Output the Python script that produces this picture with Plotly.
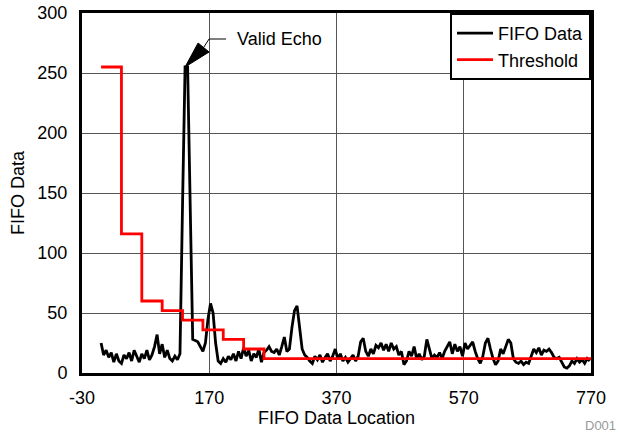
import numpy as np
import plotly.graph_objects as go

# FIFO data sampled every 4 locations, from 0 to 768
fifo_values = [
    25, 15, 19, 13, 17, 9, 16, 10,
    8, 15, 12, 17, 10, 19, 14, 9,
    16, 12, 19, 11, 15, 22, 32, 16,
    24, 13, 19, 12, 10, 14, 11, 16,
    140, 255, 255, 130, 28, 27, 26, 22,
    18, 25, 45, 58, 50, 25, 10, 8,
    12, 9, 14, 11, 16, 10, 18, 12,
    21, 14, 19, 10, 16, 13, 20, 9,
    17, 19, 22, 18, 17, 20, 15, 22,
    30, 18, 20, 38, 52, 56, 40, 20,
    15, 13, 10, 8, 14, 11, 15, 9,
    13, 16, 10, 14, 20, 12, 16, 10,
    13, 9, 12, 15, 10, 14, 26, 29,
    18, 14, 20, 16, 23, 21, 25, 19,
    24, 18, 25, 20, 22, 15, 18, 7,
    10, 18, 14, 22, 12, 16, 11, 14,
    28, 20, 12, 15, 13, 17, 12, 18,
    22, 26, 16, 24, 18, 22, 14, 25,
    20, 23, 26, 18, 12, 8, 14, 25,
    29, 20, 12, 7, 10, 20, 16, 22,
    28, 25, 12, 9, 8, 10, 7, 9,
    8, 14, 20, 17, 21, 15, 19, 18,
    20, 17, 13, 12, 13, 9, 5, 4,
    6, 10, 8, 12, 9, 11, 8, 12,
    10,
]
fifo_step = 4
fifo_x = [i * fifo_step for i in range(len(fifo_values))]

threshold_x = [0, 32, 64, 96, 128, 160, 192, 224, 256, 770]
threshold_y = [255, 116, 60, 52, 44, 36, 28, 20, 12, 12]

x_ticks = [-30, 170, 370, 570, 770]
y_ticks = [0, 50, 100, 150, 200, 250, 300]

FONT = "Liberation Sans, Arial, sans-serif"

fig = go.Figure()
fig.add_trace(go.Scatter(x=fifo_x, y=fifo_values, mode="lines", name="FIFO Data",
                         line=dict(color="black", width=2.8)))
fig.add_trace(go.Scatter(x=threshold_x, y=threshold_y, mode="lines", name="Threshold",
                         line=dict(color="#ff0000", width=2.8, shape="hv")))

# "Valid Echo" callout anchored at the peak
pk = int(np.argmax(fifo_values))
px_, py_ = fifo_x[pk], fifo_values[pk]
ux = 1 / 0.636   # data units per pixel (x)
uy = 1 / 1.2     # data units per pixel (y)
c1 = (px_ + 13 * ux, py_ + 24 * uy)
c2 = (px_ + 24 * ux, py_ + 15 * uy)
fig.add_shape(type="path",
              path=f"M{px_},{py_} L{c1[0]},{c1[1]} L{c2[0]},{c2[1]} Z",
              fillcolor="black", line=dict(color="black", width=1))
mid = ((c1[0] + c2[0]) / 2, (c1[1] + c2[1]) / 2)
elbow = (px_ + 24 * ux, py_ + 28 * uy)
fig.add_shape(type="path",
              path=f"M{mid[0]},{mid[1]} L{elbow[0]},{elbow[1]} L{elbow[0] + 17 * ux},{elbow[1]}",
              line=dict(color="black", width=1))
fig.add_annotation(x=elbow[0] + 26 * ux, y=elbow[1], text="Valid Echo", showarrow=False,
                   xanchor="left", yanchor="middle", font=dict(size=18, color="black", family=FONT))

fig.add_annotation(x=1.053, y=-0.147, xref="paper", yref="paper", text="D001", showarrow=False,
                   xanchor="right", yanchor="middle", font=dict(size=13, color="#999999", family=FONT))

fig.update_layout(
    width=619, height=434,
    margin=dict(l=82, r=28, t=13, b=61, autoexpand=False),
    paper_bgcolor="white", plot_bgcolor="white",
    font=dict(family=FONT, size=18, color="black"),
    showlegend=True,
    legend=dict(x=1, y=1, xanchor="right", yanchor="top", bgcolor="white",
                bordercolor="black", borderwidth=2, font=dict(size=18),
                tracegroupgap=0, itemwidth=36),
    xaxis=dict(range=[-30, 770], tickvals=x_ticks, ticktext=[str(v) for v in x_ticks],
               showgrid=True, gridcolor="#555555", gridwidth=1,
               showline=True, linecolor="black", linewidth=3, mirror=True,
               zeroline=False, ticks="", ticklabelstandoff=6, automargin=False,
               title=dict(text="FIFO Data Location", standoff=0, font=dict(size=18))),
    yaxis=dict(range=[0, 300], tickvals=y_ticks,
               showgrid=True, gridcolor="#555555", gridwidth=1,
               showline=True, linecolor="black", linewidth=3, mirror=True,
               zeroline=False, ticks="", ticklabelstandoff=8, automargin=False,
               title=dict(text="FIFO Data", standoff=9, font=dict(size=18))),
)

fig.write_html("out.html")
